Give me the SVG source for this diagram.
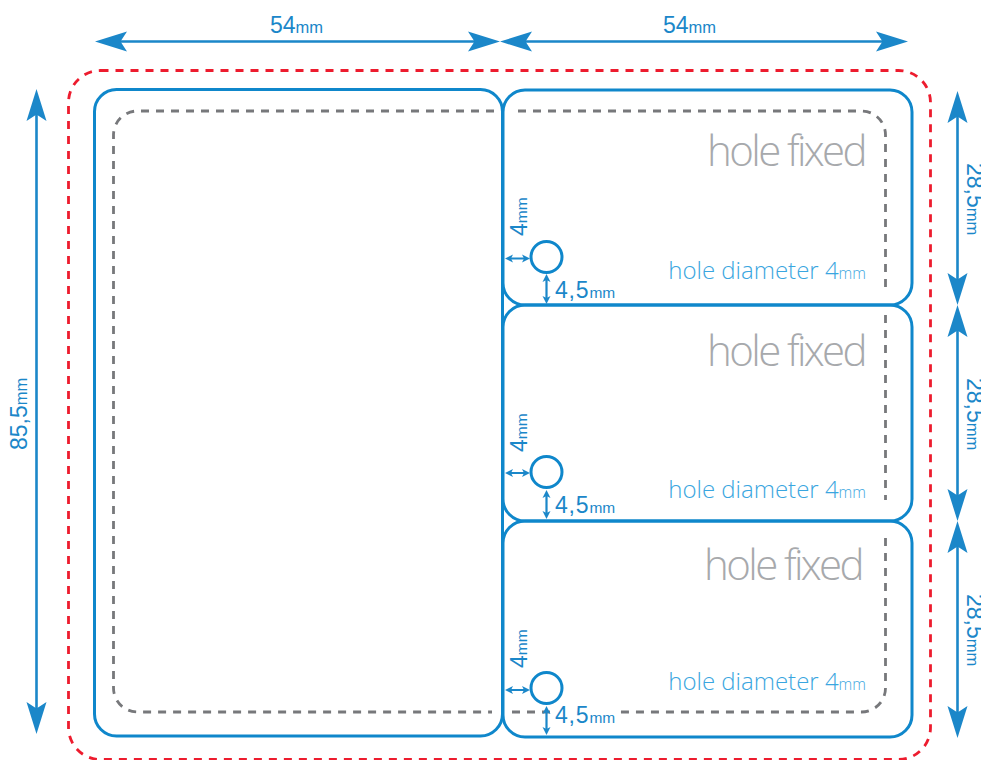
<svg xmlns="http://www.w3.org/2000/svg" width="981" height="760" viewBox="0 0 981 760">
<style>
.card{fill:none;stroke:#0f87cb;stroke-width:3}
.red{fill:none;stroke:#ed1c2e;stroke-width:2.8;stroke-dasharray:8 7}
.grey{fill:none;stroke:#77787b;stroke-width:2.8;stroke-dasharray:8 7}
.line{stroke:#1b87c9;stroke-width:2.6;fill:none}
.thin{stroke:#1b87c9;stroke-width:2.2;fill:none}
.head{fill:#1b87c9}
.dim{font-family:"Liberation Sans",Arial,sans-serif;font-size:23px;fill:#1b87c9}
.dim tspan{font-size:16.500px}
.sd{font-family:"Liberation Sans",Arial,sans-serif;font-size:23px;fill:#1b87c9}
.sd tspan{font-size:15.500px}
.sp{letter-spacing:.8px}
.sp tspan{letter-spacing:0}
.hf{font-family:"Open Sans",sans-serif;font-weight:300;font-size:42px;letter-spacing:-2.600px;fill:#a7a9ac;text-anchor:end}
.hd{font-family:"Open Sans",sans-serif;font-weight:300;font-size:24px;fill:#3aa6e0;text-anchor:end}
.hd tspan{font-size:15.500px}
</style>
<defs>
<path id="big" class="head" d="M0 0L32 -10L25.500 0L32 10Z"/>
<path id="small" class="head" d="M0 0L8 -4L6 0L8 4Z"/>
</defs>
<g id="outer-bleed"><rect class="red" x="68.500" y="70.500" width="862" height="689" rx="32"/></g>
<g id="safe-area">
<path class="grey" d="M494 111H137.500A24 24 0 0 0 113.500 135V688A24 24 0 0 0 137.500 712H492"/>
<path class="grey" d="M518 111H861.500A24 24 0 0 1 885.500 135V290"/>
<path class="grey" d="M885.500 315V500"/>
<path class="grey" d="M885.500 538V688A24 24 0 0 1 861.500 712H618"/>
<path class="grey" d="M512 712H550"/>
</g>
<g id="card-left"><rect class="card" x="94.500" y="89.500" width="408" height="646.500" rx="22"/></g>
<g id="card-1">
<rect class="card" x="503" y="90" width="409" height="215" rx="22"/>
<circle class="card" cx="546.500" cy="257" r="15.500"/>
<text class="hf" x="865" y="166">hole fixed</text>
<text class="hd" x="866" y="279">hole diameter 4<tspan>mm</tspan></text>
<text class="sd sp" x="555" y="298">4,5<tspan>mm</tspan></text>
<text class="sd" transform="translate(527 236) rotate(-90)">4<tspan>mm</tspan></text>
</g>
<g id="card-2">
<rect class="card" x="503" y="305" width="409" height="216" rx="22"/>
<circle class="card" cx="546.500" cy="472" r="15.500"/>
<text class="hf" x="865" y="366">hole fixed</text>
<text class="hd" x="866" y="498">hole diameter 4<tspan>mm</tspan></text>
<text class="sd sp" x="555" y="513">4,5<tspan>mm</tspan></text>
<text class="sd" transform="translate(527 452) rotate(-90)">4<tspan>mm</tspan></text>
</g>
<g id="card-3">
<rect class="card" x="503" y="521" width="409" height="216" rx="22"/>
<circle class="card" cx="546.500" cy="688" r="15.500"/>
<text class="hf" x="862" y="580">hole fixed</text>
<text class="hd" x="866" y="690">hole diameter 4<tspan>mm</tspan></text>
<text class="sd sp" x="555" y="723">4,5<tspan>mm</tspan></text>
<text class="sd" transform="translate(527 668) rotate(-90)">4<tspan>mm</tspan></text>
</g>
<g id="connectors">
<path class="line" d="M115 41.500H480M520 41.500H888M36.500 110V714M957.500 112V285M957.500 326V500M957.500 542V717"/>
<use href="#big" transform="translate(95 41.500)"/>
<use href="#big" transform="translate(500 41.500) rotate(180)"/>
<use href="#big" transform="translate(500 41.500)"/>
<use href="#big" transform="translate(908 41.500) rotate(180)"/>
<use href="#big" transform="translate(36.500 89) rotate(90)"/>
<use href="#big" transform="translate(36.500 734) rotate(-90)"/>
<use href="#big" transform="translate(957.500 91) rotate(90)"/>
<use href="#big" transform="translate(957.500 305) rotate(-90)"/>
<use href="#big" transform="translate(957.500 305) rotate(90)"/>
<use href="#big" transform="translate(957.500 521) rotate(-90)"/>
<use href="#big" transform="translate(957.500 521) rotate(90)"/>
<use href="#big" transform="translate(957.500 738) rotate(-90)"/>
<g id="small-dims">
<path class="thin" d="M510 258.500H525M546.500 280V298M510 473H525M546.500 495V513M510 690H525M546.500 710V730"/>
<use href="#small" transform="translate(505 258.500)"/><use href="#small" transform="translate(530 258.500) rotate(180)"/>
<use href="#small" transform="translate(546.500 274) rotate(90)"/><use href="#small" transform="translate(546.500 304) rotate(-90)"/>
<use href="#small" transform="translate(505 473)"/><use href="#small" transform="translate(530 473) rotate(180)"/>
<use href="#small" transform="translate(546.500 490) rotate(90)"/><use href="#small" transform="translate(546.500 519) rotate(-90)"/>
<use href="#small" transform="translate(505 690)"/><use href="#small" transform="translate(530 690) rotate(180)"/>
<use href="#small" transform="translate(546.500 706) rotate(90)"/><use href="#small" transform="translate(546.500 735) rotate(-90)"/>
</g>
</g>
<g id="dimension-labels">
<text class="dim" x="270" y="33">54<tspan>mm</tspan></text>
<text class="dim" x="663" y="33">54<tspan>mm</tspan></text>
<text class="dim" transform="translate(27 450) rotate(-90)">85,5<tspan>mm</tspan></text>
<text class="dim" transform="translate(967 163) rotate(90)">28,5<tspan>mm</tspan></text>
<text class="dim" transform="translate(967 378) rotate(90)">28,5<tspan>mm</tspan></text>
<text class="dim" transform="translate(967 594) rotate(90)">28,5<tspan>mm</tspan></text>
</g>
</svg>
